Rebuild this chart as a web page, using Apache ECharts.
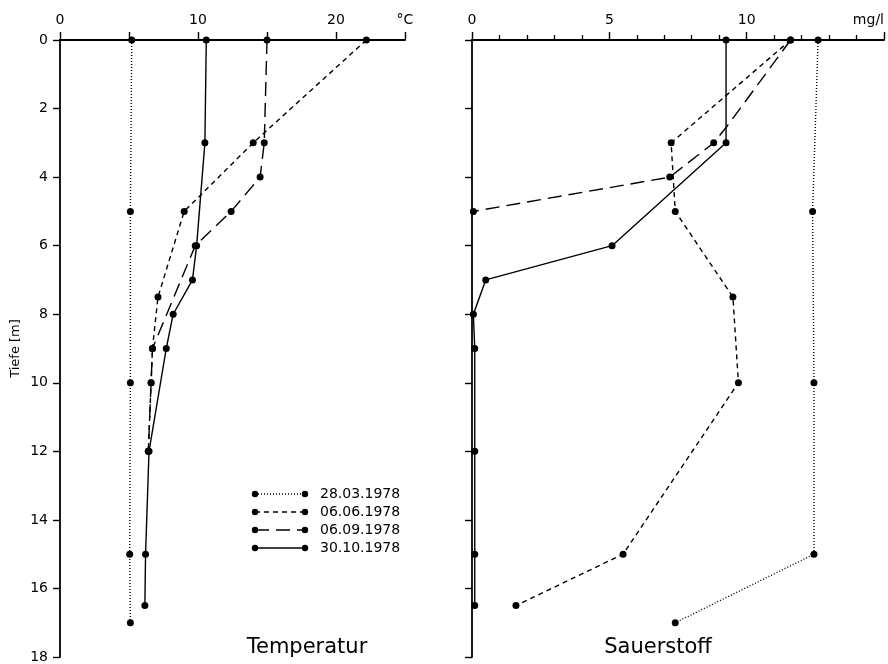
<!DOCTYPE html>
<html>
<head>
<meta charset="utf-8"/>
<title>Temperatur / Sauerstoff</title>
<script src="https://cdn.jsdelivr.net/npm/echarts@6/dist/echarts.min.js"></script>
<style>
  html, body { margin: 0; padding: 0; background: #fff; }
</style>
</head>
<body>
<div id="main" style="width: 888px;height:664px;"></div>
<script type="text/javascript">
    // Datums der Messungen
    var dates = ['28.03.1978', '06.06.1978', '06.09.1978', '30.10.1978'];

    // Temperatur (°C) und Tiefe (m)
    var t2803Depth = [0, 5, 10, 15, 17];
    var t2803 = [5.2, 5.1, 5.1, 5.05, 5.1];
    var t0606Depth = [0, 3, 5, 7.5, 9, 10, 12];
    var t0606 = [22.2, 14.0, 9.0, 7.1, 6.7, 6.6, 6.4];
    var t0609Depth = [0, 3, 4, 5, 6, 9, 10, 12];
    var t0609 = [15.0, 14.8, 14.5, 12.4, 9.8, 6.7, 6.6, 6.4];
    var t3010Depth = [0, 3, 6, 7, 8, 9, 12, 15, 16.5];
    var t3010 = [10.6, 10.5, 9.9, 9.6, 8.2, 7.7, 6.45, 6.2, 6.15];

    // Sauerstoff (mg/l) und Tiefe (m)
    var o2803Depth = [0, 5, 10, 15, 17];
    var o2803 = [12.6, 12.4, 12.45, 12.45, 7.4];
    var o0606Depth = [0, 3, 5, 7.5, 10, 15, 16.5];
    var o0606 = [11.6, 7.25, 7.4, 9.5, 9.7, 5.5, 1.6];
    var o0609Depth = [0, 2.5, 3, 4, 5];
    var o0609 = [11.6, 9.3, 8.8, 7.2, 0.05];
    var o3010Depth = [0, 3, 6, 7, 8, 9, 12, 15, 16.5];
    var o3010 = [9.25, 9.25, 5.1, 0.5, 0.05, 0.1, 0.1, 0.1, 0.1];

    var depthTicks = [0, 2, 4, 6, 8, 10, 12, 14, 16, 18];

    // Strichmuster je Datum
    var dashes = [[1, 2], [5, 4], [14, 7], null];

    var font = 'DejaVu Sans';

    function pairs(vals, depth, hidden) {
        var out = [];
        for (var i = 0; i < vals.length; i++) {
            var item = { value: [vals[i], depth[i]] };
            if (hidden && hidden.indexOf(depth[i]) >= 0) item.symbol = 'none';
            out.push(item);
        }
        return out;
    }

    function lineSeries(name, idx, grid, data) {
        return {
            name: name,
            type: 'line',
            xAxisIndex: grid,
            yAxisIndex: grid,
            data: data,
            symbol: 'circle',
            symbolSize: 7,
            itemStyle: { color: '#000' },
            lineStyle: {
                color: '#000',
                width: 1.4,
                type: dashes[idx] ? dashes[idx] : 'solid'
            },
            clip: false,
            animation: false
        };
    }

    var myChart = echarts.init(document.getElementById('main'));

    var legendY = [494, 512, 530, 548];
    var graphic = [];
    for (var i = 0; i < dates.length; i++) {
        graphic.push({
            type: 'line',
            shape: { x1: 255, y1: legendY[i], x2: 305, y2: legendY[i] },
            style: { stroke: '#000', lineWidth: 1.4, lineDash: dashes[i] }
        });
        graphic.push({ type: 'circle', shape: { cx: 255, cy: legendY[i], r: 3.2 }, style: { fill: '#000' } });
        graphic.push({ type: 'circle', shape: { cx: 305, cy: legendY[i], r: 3.2 }, style: { fill: '#000' } });
        graphic.push({
            type: 'text',
            x: 320, y: legendY[i],
            style: { text: dates[i], fill: '#000', font: '14px ' + font, verticalAlign: 'middle' }
        });
    }
    graphic.push({
        type: 'text', x: 307, y: 648,
        style: { text: 'Temperatur', fill: '#000', font: '21px ' + font, align: 'center', verticalAlign: 'middle' }
    });
    graphic.push({
        type: 'text', x: 658, y: 648,
        style: { text: 'Sauerstoff', fill: '#000', font: '21px ' + font, align: 'center', verticalAlign: 'middle' }
    });

    var axisCommon = {
        axisLine: { show: true, lineStyle: { color: '#000', width: 1.8 } },
        axisTick: { show: true, inside: false, length: 8, lineStyle: { color: '#000', width: 1.4 } },
        splitLine: { show: false },
        axisLabel: { color: '#000', fontFamily: font, fontSize: 14 }
    };

    var option = {
        backgroundColor: '#fff',
        animation: false,
        grid: [
            { left: 60, top: 40, width: 345, height: 617 },
            { left: 472, top: 40, width: 412, height: 617 }
        ],
        xAxis: [
            echarts.util.merge({
                type: 'value', gridIndex: 0, position: 'top',
                min: 0, max: 25, interval: 5,
                axisLabel: {
                    margin: 13, showMaxLabel: true,
                    formatter: function (v) {
                        if (v === 25) return '°C';
                        return v % 10 === 0 ? String(v) : '';
                    }
                }
            }, axisCommon, false),
            echarts.util.merge({
                type: 'value', gridIndex: 1, position: 'top',
                min: 0, max: 15, interval: 5,
                minorTick: { show: true, splitNumber: 5, length: 5, lineStyle: { color: '#000', width: 1.3 } },
                axisLabel: {
                    margin: 13, showMaxLabel: true, alignMaxLabel: 'right',
                    formatter: function (v) {
                        if (v === 15) return 'mg/l';
                        return String(v);
                    }
                }
            }, axisCommon, false)
        ],
        yAxis: [
            echarts.util.merge({
                type: 'value', gridIndex: 0, inverse: true,
                min: depthTicks[0], max: depthTicks[depthTicks.length - 1], interval: 2,
                name: 'Tiefe [m]', nameLocation: 'middle', nameGap: 38,
                nameTextStyle: { color: '#000', fontFamily: font, fontSize: 13 },
                axisTick: { length: 7 },
                axisLabel: { margin: 12 }
            }, axisCommon, false),
            echarts.util.merge({
                type: 'value', gridIndex: 1, inverse: true,
                min: depthTicks[0], max: depthTicks[depthTicks.length - 1], interval: 2,
                axisTick: { length: 7 },
                axisLabel: { show: false }
            }, axisCommon, false)
        ],
        graphic: graphic,
        series: [
            lineSeries(dates[0], 0, 0, pairs(t2803, t2803Depth)),
            lineSeries(dates[1], 1, 0, pairs(t0606, t0606Depth)),
            lineSeries(dates[2], 2, 0, pairs(t0609, t0609Depth)),
            lineSeries(dates[3], 3, 0, pairs(t3010, t3010Depth)),
            lineSeries(dates[0], 0, 1, pairs(o2803, o2803Depth)),
            lineSeries(dates[1], 1, 1, pairs(o0606, o0606Depth)),
            lineSeries(dates[2], 2, 1, pairs(o0609, o0609Depth, [2.5])),
            lineSeries(dates[3], 3, 1, pairs(o3010, o3010Depth))
        ]
    };

    myChart.setOption(option);
</script>
</body>
</html>
